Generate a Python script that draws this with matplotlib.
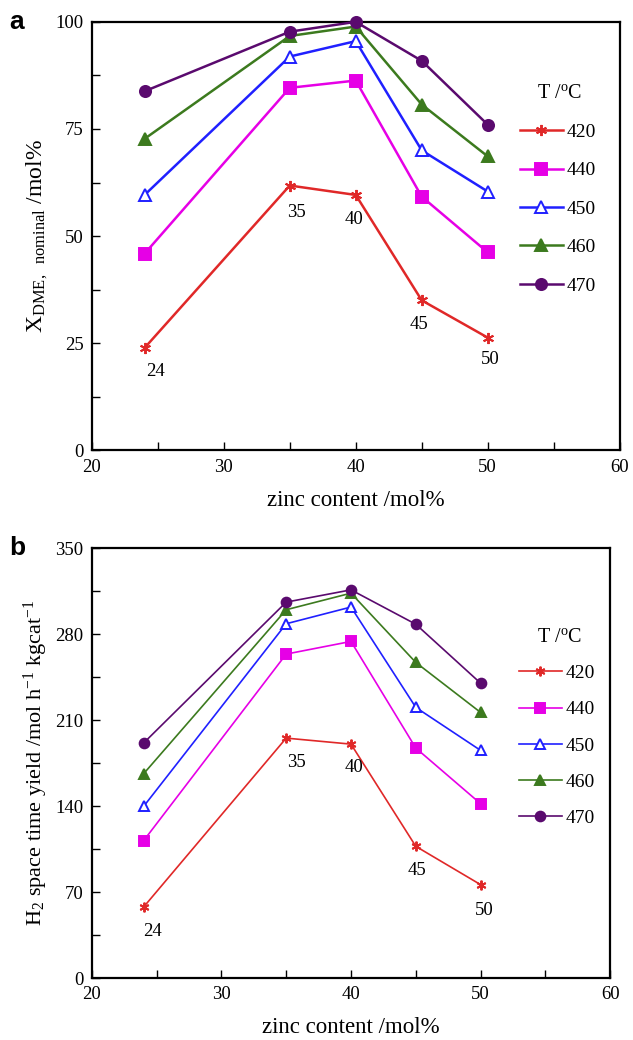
import matplotlib
matplotlib.use("Agg")
import matplotlib.pyplot as plt
from matplotlib.ticker import MultipleLocator

plt.rcParams['font.family'] = ['Liberation Serif', 'DejaVu Serif']
plt.rcParams['mathtext.fontset'] = 'custom'
plt.rcParams['mathtext.rm'] = 'Liberation Serif'
plt.rcParams['mathtext.it'] = 'Liberation Serif:italic'

zinc = [24, 35, 40, 45, 50]
temps = ['420', '440', '450', '460', '470']

# panel a: DME conversion (mol%)
conv_420 = [23.9, 61.8, 59.6, 35.0, 26.3]
conv_440 = [45.9, 84.6, 86.3, 59.2, 46.2]
conv_450 = [59.6, 91.9, 95.5, 70.0, 60.4]
conv_460 = [72.7, 96.7, 98.9, 80.7, 68.6]
conv_470 = [83.8, 97.7, 100.0, 90.9, 76.0]

# panel b: H2 space time yield
sty_420 = [57.8, 195.3, 190.4, 107.2, 76.0]
sty_440 = [111.8, 263.7, 274.0, 187.2, 141.9]
sty_450 = [139.7, 288.4, 302.0, 220.3, 185.3]
sty_460 = [166.3, 299.8, 313.3, 256.9, 216.2]
sty_470 = [191.3, 306.0, 316.0, 288.0, 240.0]

# labels next to the 420 series (x, y)
lab_a = [(24.8, 18.4), (35.5, 55.5), (39.9, 53.8), (44.8, 29.4), (50.2, 21.1)]
lab_b = [(24.7, 38), (35.8, 175.5), (40.25, 171), (45.1, 87.6), (50.3, 55)]

colors = ['#e02828', '#e600e6', '#2020ff', '#3c7a1e', '#5a0a6e']
markers = [(6, 2, 0), 's', '^', '^', 'o']
faces = ['#e02828', '#e600e6', 'white', '#3c7a1e', '#5a0a6e']

fig = plt.figure(figsize=(6.33, 10.4), dpi=100)
ax_a = fig.add_axes([0.145, 0.567, 0.834, 0.412])
ax_b = fig.add_axes([0.145, 0.0596, 0.819, 0.4134])


def draw(ax, series, labels, lw, ms, ymax, ystep, leg_anchor, leg_space, title_xy):
    for vals, t, c, m, f in zip(series, temps, colors, markers, faces):
        ax.plot(zinc, vals, color=c, lw=lw, marker=m, ms=ms, mfc=f, mec=c,
                mew=1.4, label=t, clip_on=False, zorder=3)
    for txt, (x, y) in zip(zinc, labels):
        ax.text(x, y, str(txt), fontsize=13.5, ha='center', va='center')
    ax.set_xlim(20, 60)
    ax.set_ylim(0, ymax)
    ax.xaxis.set_major_locator(MultipleLocator(10))
    ax.xaxis.set_minor_locator(MultipleLocator(5))
    ax.yaxis.set_major_locator(MultipleLocator(ystep))
    ax.yaxis.set_minor_locator(MultipleLocator(ystep / 2))
    ax.tick_params(which='both', direction='in', top=False, right=False,
                   labelsize=13.5, pad=6)
    ax.tick_params(which='major', length=6, width=1)
    ax.tick_params(which='minor', length=6, width=1)
    for s in ax.spines.values():
        s.set_linewidth(1.6)
    ax.set_xlabel('zinc content /mol%', fontsize=16.5, labelpad=10)
    ax.legend(loc='upper left', bbox_to_anchor=leg_anchor, frameon=False,
              fontsize=14, handlelength=2.2, handletextpad=0.2,
              labelspacing=leg_space)
    ax.text(title_xy[0], title_xy[1], 'T /$^{\\mathrm{o}}$C', fontsize=14.5,
            ha='center', va='center', transform=ax.transAxes)


draw(ax_a, [conv_420, conv_440, conv_450, conv_460, conv_470], lab_a,
     1.8, 8, 100, 25, (0.778, 0.804), 1.07, (0.886, 0.832))
ax_a.set_ylabel('X$_{\\mathrm{DME,\\ \\ }}$$_{\\mathrm{nominal}}$ /mol%',
                fontsize=17, labelpad=4)

draw(ax_b, [sty_420, sty_440, sty_450, sty_460, sty_470], lab_b,
     1.2, 7, 350, 70, (0.79, 0.77), 0.96, (0.903, 0.793))
ax_b.set_ylabel('H$_2$ space time yield /mol h$^{-1}$ kgcat$^{-1}$',
                fontsize=16, labelpad=4)

fig.text(0.015, 0.979, 'a', fontsize=19, fontweight='bold', family='Liberation Sans', va='center')
fig.text(0.015, 0.473, 'b', fontsize=19, fontweight='bold', family='Liberation Sans', va='center')

fig.savefig('out.png', dpi=100)
